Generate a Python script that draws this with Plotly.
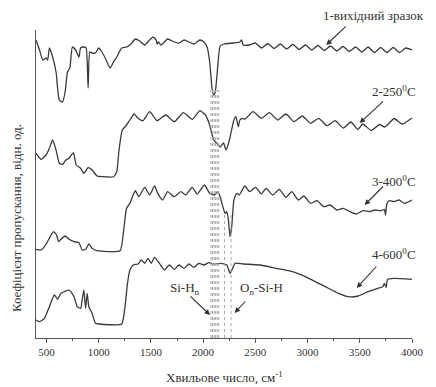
import plotly.graph_objects as go

# Wavenumber (cm^-1) and transmittance (arb. units)
wn1 = [400, 434, 465, 497, 512, 528, 559, 592, 623, 654, 679, 701, 724, 748, 780, 811, 827, 858, 880, 899,
       915, 937, 969, 1000, 1031, 1063, 1110, 1142, 1173, 1220, 1267, 1299, 1352, 1393, 1441, 1478, 1522,
       1550, 1559, 1573, 1597, 1660, 1724, 1771, 1818, 1865, 1912, 1969, 2007, 2038, 2063, 2085, 2100,
       2116, 2139, 2163, 2200, 2290, 2352, 2368, 2384, 2446, 2500, 2560, 2620, 2680, 2740, 2800, 2860,
       2920, 2980, 3040, 3100, 3160, 3220, 3280, 3340, 3400, 3460, 3520, 3580, 3640, 3700, 3760, 3820,
       3880, 3940, 4000]
t1 = [290, 280, 270, 272, 270, 282, 273, 258, 230, 228, 238, 258, 262, 283, 280, 273, 282, 283, 282, 242,
      278, 277, 277, 282, 278, 272, 262, 268, 273, 282, 283, 285, 291, 289, 285, 289, 293,
      290, 286, 288, 285, 291, 288, 287, 290, 288, 286, 290, 288, 283, 268, 242, 235,
      238, 262, 284, 286, 287, 288, 290, 285, 285, 287, 282, 286.5, 281.5, 286, 281, 285.5,
      280.5, 285, 280, 284.5, 279.5, 284, 279, 283.5, 278.5, 283, 278, 283, 277.5, 282.5, 277.5, 282.5,
      277.5, 282, 280]

wn2 = [400, 450, 497, 528, 559, 592, 623, 654, 686, 717, 758, 786, 827, 858, 899, 937, 984, 1031, 1142,
       1173, 1195, 1226, 1267, 1299, 1340, 1377, 1424, 1488, 1528, 1559, 1582, 1644, 1724, 1811, 1896,
       1969, 2022, 2063, 2101, 2132, 2163, 2195, 2220, 2252, 2295, 2314, 2337, 2352, 2377, 2399, 2478,
       2557, 2635, 2714, 2793, 2871, 2950, 3029, 3107, 3186, 3264, 3342, 3415, 3481, 3528, 3610, 3689,
       3736, 3764, 3830, 3906, 4000]
t2 = [176.7, 170.7, 175, 181.7, 190, 180, 166.7, 165.7, 170, 171.7, 177.3, 165, 161.7, 156.7, 162.3, 160,
      154, 153.3, 153.3, 158.3, 180, 200, 205, 210, 216, 211.7, 209.3, 218.3, 213.3, 209.3, 210.7, 215,
      208.3, 217.3, 210.7, 219.3, 215, 205, 190, 186.7, 183, 187, 180, 190, 210, 213.3, 203.3, 210, 211.7,
      210.7, 218.3, 211.7, 217.3, 210, 216, 208.3, 214, 206.7, 211.7, 204.3, 209.3, 202, 208, 200.5, 206,
      199.5, 205.5, 203, 205, 211.5, 206, 212]

wn3 = [400, 450, 481, 528, 566, 597, 616, 639, 679, 717, 764, 811, 842, 875, 906, 937, 984, 1205, 1236,
       1267, 1299, 1330, 1352, 1384, 1441, 1488, 1535, 1566, 1613, 1660, 1724, 1786, 1833, 1896, 1943,
       2012, 2063, 2107, 2139, 2163, 2189, 2210, 2226, 2242, 2258, 2274, 2295, 2321, 2346, 2399, 2446,
       2503, 2557, 2604, 2667, 2729, 2793, 2849, 2912, 2965, 3029, 3092, 3154, 3217, 3280, 3342, 3406,
       3468, 3531, 3594, 3641, 3705, 3736, 3746, 3761, 3783, 3830, 3877, 3924, 4000]
t3 = [80.7, 80, 83.3, 91.7, 98.3, 95, 88.3, 90.7, 94, 90.7, 88.3, 87.3, 80, 80.7, 86, 81.7, 79.3, 79.3, 96.7,
      121.7, 126.7, 135, 139.3, 133.3, 142.7, 135, 144, 136.7, 130, 138.3, 133.3, 138.3, 135, 142.7, 136,
      145, 136.7, 135, 138.3, 133.3, 123.3, 116.7, 118.3, 110, 93.3, 103.3, 130, 136.7, 135, 144, 138.3,
      142.7, 136, 141.7, 135, 140.7, 132.7, 138.3, 130, 134, 126.7, 129.3, 123.3, 125, 120, 121.7, 118.3,
      116, 119.3, 118.3, 120, 119.3, 120.7, 115, 126.7, 129.3, 128.3, 130, 126.7, 130]

wn4 = [400, 434, 481, 528, 575, 607, 639, 670, 717, 764, 795, 827, 842, 858, 875, 890, 906, 937, 969, 1000,
       1220, 1252, 1276, 1299, 1330, 1377, 1408, 1441, 1472, 1503, 1535, 1582, 1629, 1676, 1724, 1771,
       1818, 1865, 1912, 1959, 2007, 2054, 2101, 2163, 2226, 2258, 2283, 2305, 2384, 2541, 2698, 2856,
       3012, 3170, 3295, 3390, 3484, 3578, 3673, 3720, 3736, 3752, 3767, 3830, 4000]
t4 = [10, 8.3, 11.7, 23.3, 35, 30.7, 36.7, 38.3, 40, 33.3, 23.3, 21.7, 30, 40, 21.7, 36.7, 23.3, 16.7, 6.7, 6,
      6, 23.3, 46.7, 60, 65, 66, 70, 66.7, 71.7, 66.7, 72.7, 66.7, 60, 65, 60.7, 65,
      61.7, 66, 62.7, 66.7, 65, 67.3, 66, 66.7, 65, 56.7, 61.7, 66.7, 66, 65, 61.7, 58.3,
      51.7, 43.3, 36.7, 33.3, 34, 38.3, 41.7, 43.3, 46.7, 42.7, 50.7, 51.7, 50.7]

band_sih = [2075, 2090, 2105, 2120, 2135, 2150]   # Si-Hn band marker lines
lines_osih = [2205, 2267]                          # On-Si-H marker lines

x_ticks = [500, 1000, 1500, 2000, 2500, 3000, 3500, 4000]

series = [(wn1, t1), (wn2, t2), (wn3, t3), (wn4, t4)]

fig = go.Figure()
for wn, t in series:
    fig.add_trace(go.Scatter(x=wn, y=t, mode="lines",
                             line=dict(color="#3a3a3a", width=1.3, shape="spline", smoothing=0.5),
                             showlegend=False, hoverinfo="skip"))

shapes = []
for xv in band_sih:
    shapes.append(dict(type="line", xref="x", yref="y", x0=xv, x1=xv, y0=-8, y1=240,
                       line=dict(color="#a8a8a8", width=1, dash="dot")))
for xv in lines_osih:
    shapes.append(dict(type="line", xref="x", yref="y", x0=xv, x1=xv, y0=-8, y1=117,
                       line=dict(color="#a8a8a8", width=1, dash="dot")))

font_serif = "Liberation Serif, Times New Roman, serif"
ann = []
texts = [
    ("1-вихідний зразок", 0.897, 1.048),
    ("2-250<sup>0</sup>C", 0.953, 0.802),
    ("3-400<sup>0</sup>C", 0.953, 0.509),
    ("4-600<sup>0</sup>C", 0.953, 0.272),
    ("Si-H<sub>n</sub>", 0.395, 0.162),
    ("O<sub>n</sub>-Si-H", 0.60, 0.162),
]
for txt, x, y in texts:
    ann.append(dict(x=x, y=y, xref="paper", yref="paper", xanchor="center", yanchor="middle",
                    text=txt, showarrow=False,
                    font=dict(family=font_serif, size=13, color="#333")))

arrows = [
    (3179, 285, 21, -20),
    (3499, 207, 25, -23),
    (3546, 125, 20, -20),
    (3471, 42, 21, -23),
    (2066, 15, -21, -20),
    (2302, 17, 12, -13),
]
for x, y, ax, ay in arrows:
    ann.append(dict(x=x, y=y, xref="x", yref="y", ax=ax, ay=ay, text="", showarrow=True,
                    arrowhead=2, arrowsize=1, arrowwidth=1.1, arrowcolor="#333"))

ann.append(dict(x=-0.05, y=0.39, xref="paper", yref="paper", xanchor="center", yanchor="middle",
                text="Коефіцієнт пропускання, відн. од.",
                textangle=-90, showarrow=False, font=dict(family=font_serif, size=13, color="#333")))
ann.append(dict(x=0.5, y=-0.127, xref="paper", yref="paper", text="Хвильове число, см<sup>-1</sup>",
                showarrow=False, xanchor="center", yanchor="middle",
                font=dict(family=font_serif, size=13, color="#333")))

fig.update_layout(
    width=436, height=387,
    margin=dict(l=36, r=18, t=30, b=49),
    paper_bgcolor="white", plot_bgcolor="white",
    shapes=shapes, annotations=ann,
    xaxis=dict(range=[400, 4000], tickvals=x_ticks, ticks="outside", ticklen=4, tickwidth=1,
               tickcolor="#555", showline=True, linecolor="#555", linewidth=1, showgrid=False,
               zeroline=False, tickfont=dict(family=font_serif, size=11, color="#333"),
               minor=dict(dtick=250, ticks="outside", ticklen=2, tickcolor="#555")),
    yaxis=dict(range=[-8, 300], showticklabels=False, ticks="", showline=True, linecolor="#555",
               linewidth=1, showgrid=False, zeroline=False),
)

fig.write_html("out.html")
